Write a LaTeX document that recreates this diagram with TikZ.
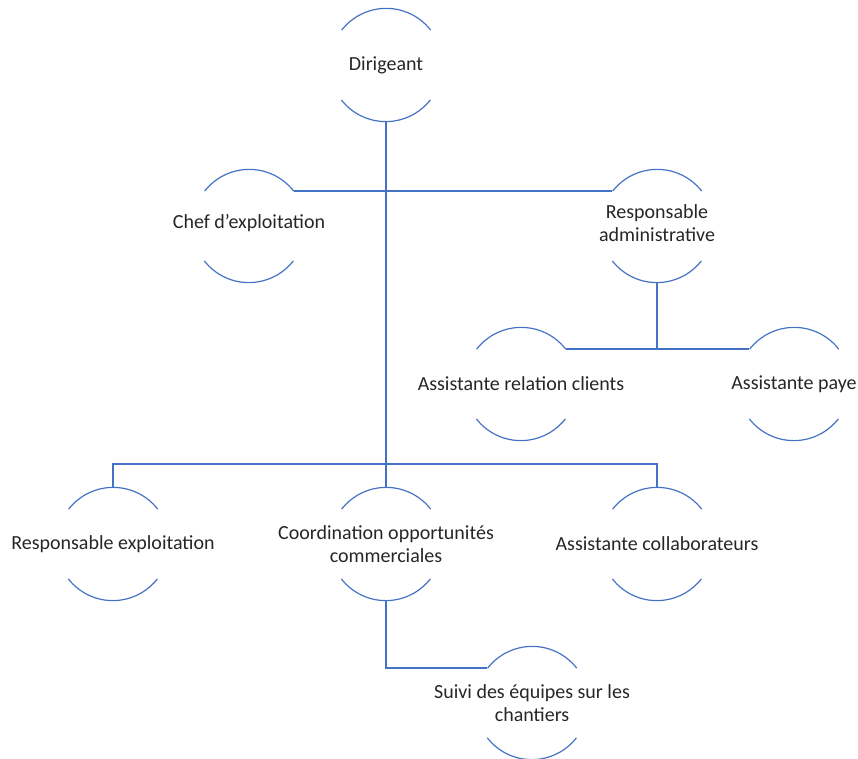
\documentclass[tikz,border=0pt]{standalone}
\usepackage{fontspec}
\setmainfont{Carlito}
\usepackage{tikz}
\usetikzlibrary{positioning}

\definecolor{orgblue}{HTML}{4472C4}
\newcommand\orgfont{\fontsize{20}{23}\selectfont}
\newcommand\orgarcs[1]{%
  \draw[arcline] (#1.38) arc[start angle=38,end angle=142,radius=56.5pt];
  \draw[arcline] (#1.218) arc[start angle=218,end angle=322,radius=56.5pt];}

\tikzset{
  orgnode/.style={circle, minimum size=113pt, inner sep=0pt},
  orgtext/.style={align=center, font=\orgfont, text=black!85, inner sep=0pt},
  arcline/.style={draw=orgblue, line width=1.2pt},
  link/.style={draw=orgblue, line width=1.5pt},
}

\begin{document}
\begin{tikzpicture}[x=1pt,y=1pt]
    \useasboundingbox (0,0) rectangle (858,758);
    % circles
    \node[orgnode] (dir) at (386,693) {};
    \node[orgnode] (chef) at (249,532) {};
    \node[orgnode] (radm) at (657,532) {};
    \node[orgnode] (arel) at (521,374) {};
    \node[orgnode] (apay) at (794,374) {};
    \node[orgnode] (rexp) at (113,214) {};
    \node[orgnode] (coord) at (386,214) {};
    \node[orgnode] (acol) at (657,214) {};
    \node[orgnode] (suivi) at (532,55) {};
    \foreach \n in {dir,chef,radm,arel,apay,rexp,coord,acol,suivi}
      {\orgarcs{\n}}
    % texts
    \node[orgtext] (dir-t) at (dir) {Dirigeant};
    \node[orgtext] (chef-t) at ([yshift=3pt]chef.center) {Chef d’exploitation};
    \node[orgtext] (radm-t) at ([yshift=3pt]radm.center) {Responsable\\administrative};
    \node[orgtext] (arel-t) at (arel) {Assistante relation clients};
    \node[orgtext] (apay-t) at (apay) {Assistante paye};
    \node[orgtext] (rexp-t) at (rexp) {Responsable exploitation};
    \node[orgtext] (coord-t) at (coord) {Coordination opportunités\\commerciales};
    \node[orgtext] (acol-t) at (acol) {Assistante collaborateurs};
    \node[orgtext] (suivi-t) at (suivi) {Suivi des équipes sur les\\chantiers};
    % links
    \draw[link] (dir.south) -- (coord.north);
    \draw[link] (chef.38) -- (radm.142);
    \draw[link] (radm.south) -- (radm.south |- arel.38);
    \draw[link] (arel.38) -- (apay.142);
    \coordinate (bar) at (386,294);
    \draw[link] (rexp.north) |- (bar) -| (acol.north);
    \draw[link] (coord.south) |- (suivi.142);
\end{tikzpicture}
\end{document}
